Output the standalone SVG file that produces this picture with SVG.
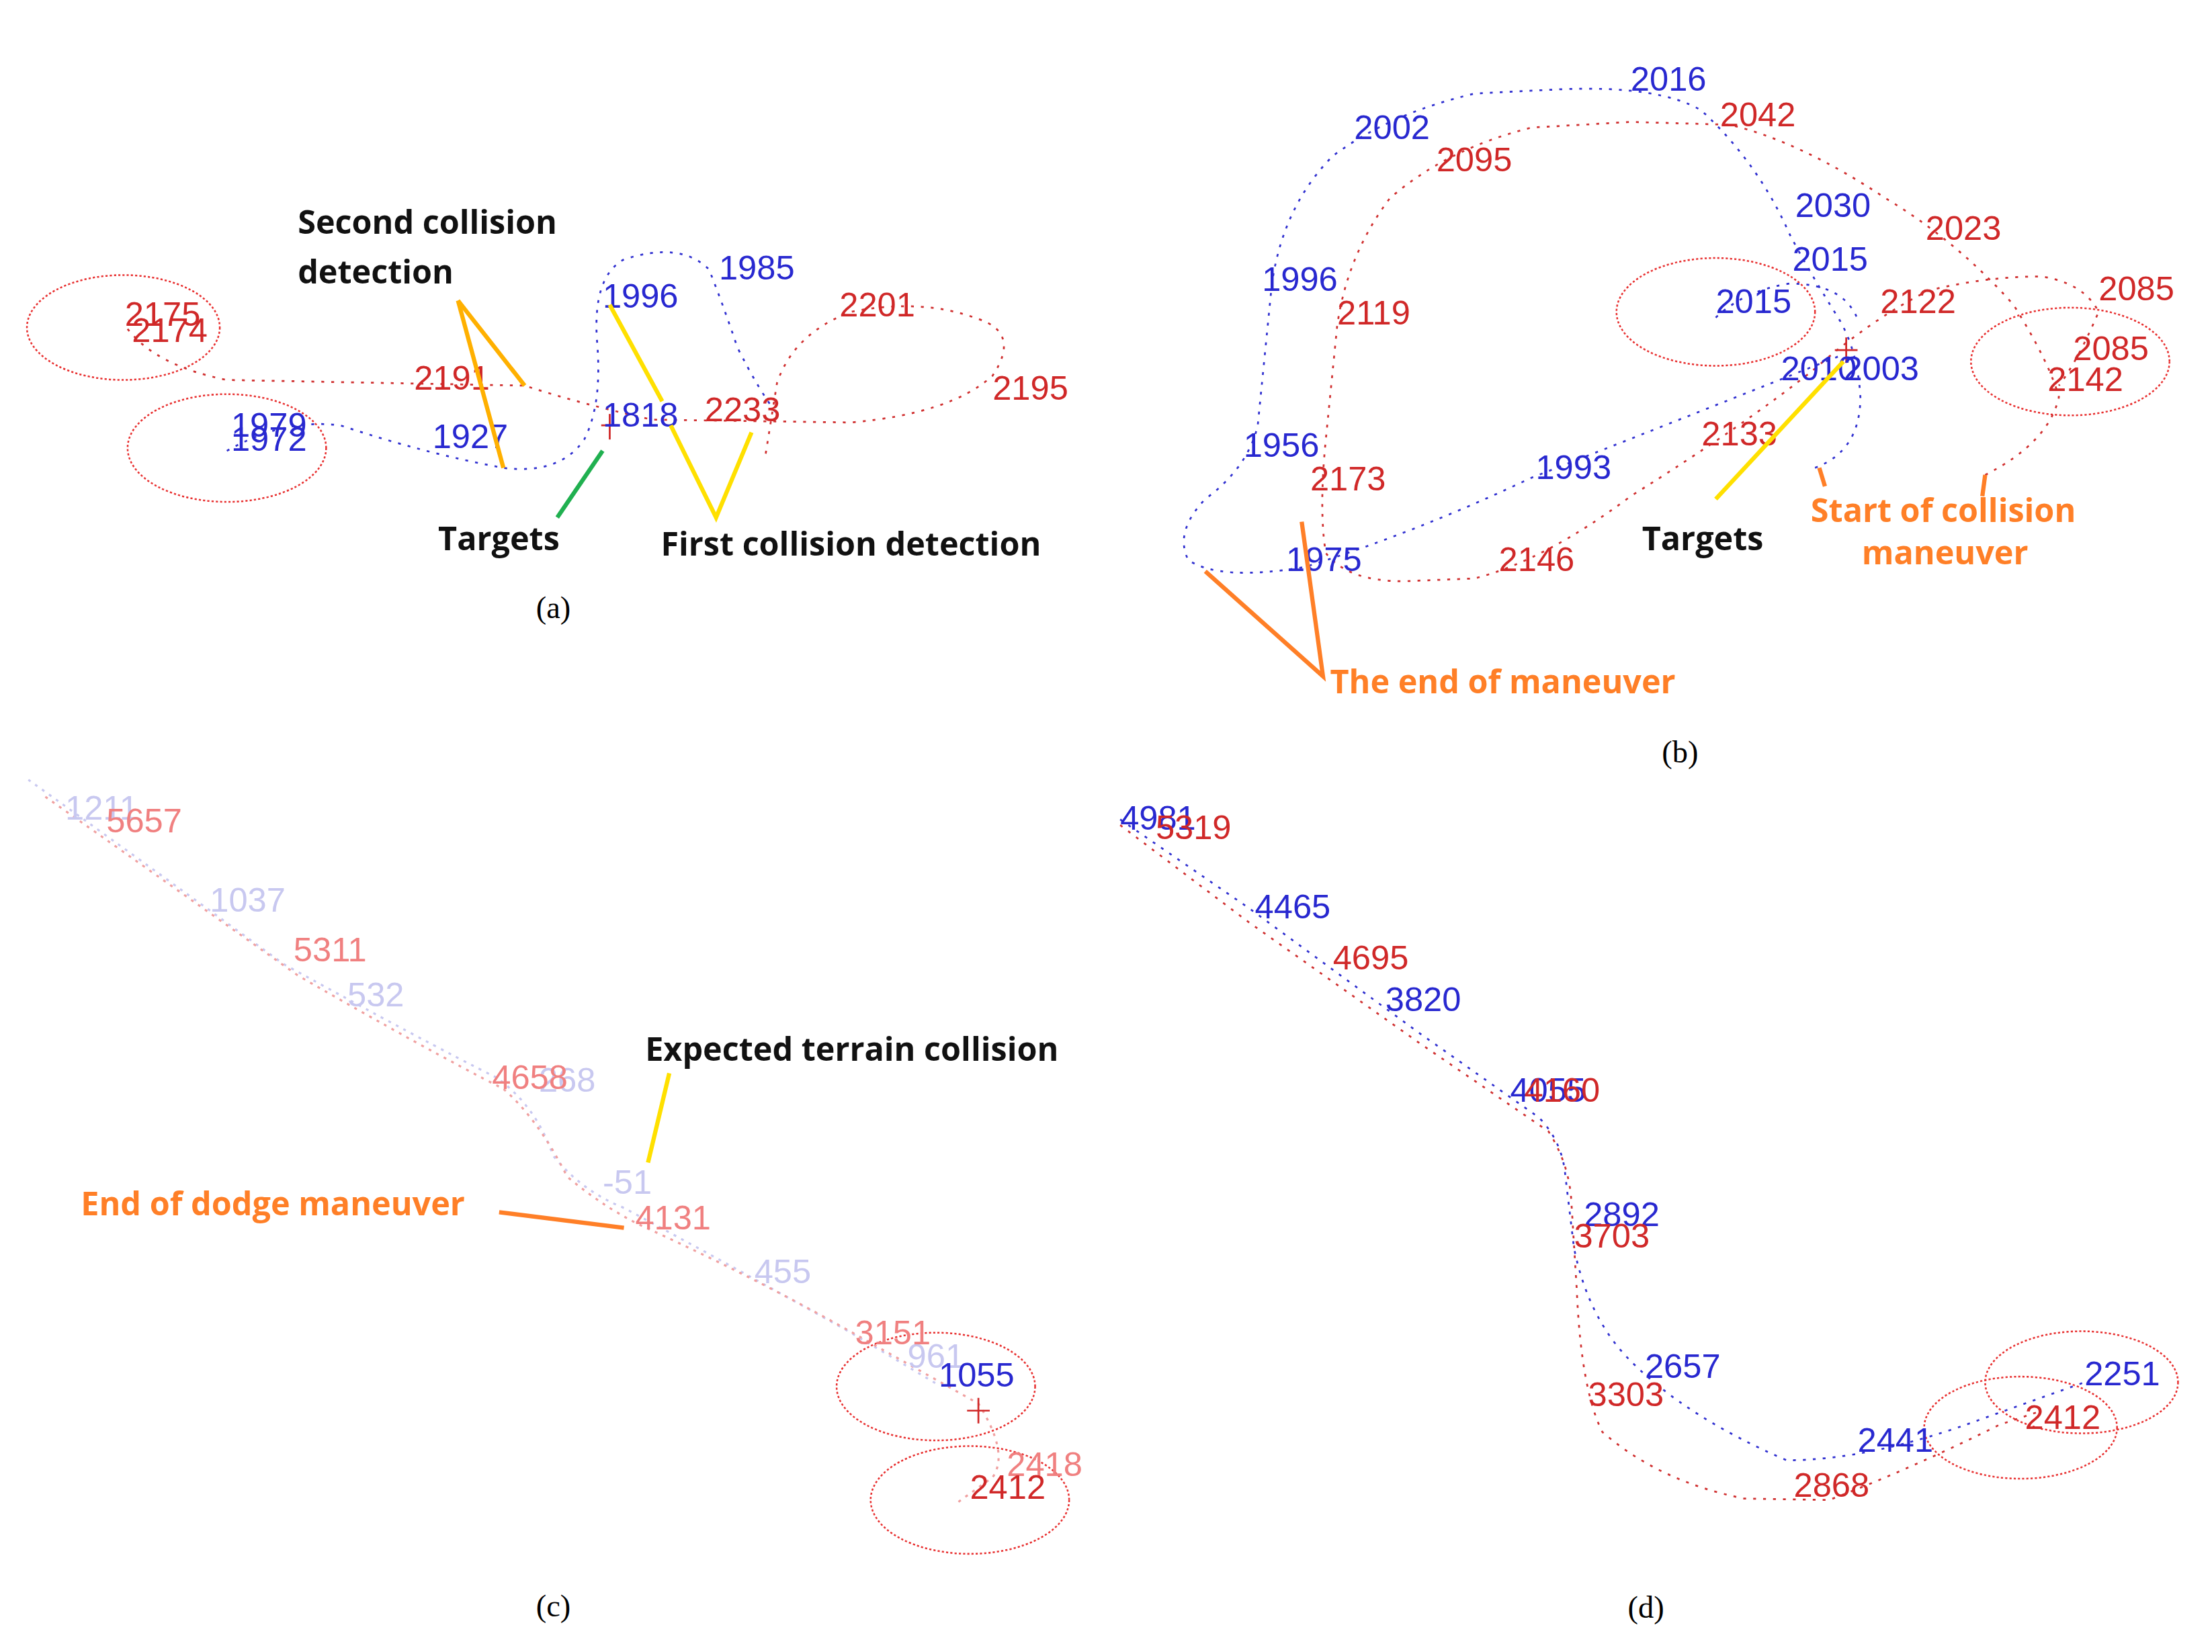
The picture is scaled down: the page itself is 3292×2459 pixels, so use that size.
<svg xmlns="http://www.w3.org/2000/svg" width="3292" height="2459" viewBox="0 0 3292 2459">
<style>
.bt{fill:none;stroke:#3030d0;stroke-width:1.3;stroke-dasharray:2 5}
.rt{fill:none;stroke:#d03030;stroke-width:1.3;stroke-dasharray:2 5}
.pbt{fill:none;stroke:#c8c8f0;stroke-width:1.5;stroke-dasharray:2 4}
.prt{fill:none;stroke:#f0a0a0;stroke-width:1.5;stroke-dasharray:2 4}
.el{fill:none;stroke:#e83030;stroke-width:1.2;stroke-dasharray:1.5 1.5}
text{font-family:"Liberation Sans",Arial,sans-serif}
.lb{font-size:24px;fill:#2828d0}
.lr{font-size:24px;fill:#d02828}
.lpb{font-size:24px;fill:#c8c8f0}
.lpr{font-size:24px;fill:#f08080}
.an{font-family:"Open Sans","Liberation Sans",sans-serif;font-weight:bold;font-size:23px;fill:#111}
.ao{font-family:"Open Sans","Liberation Sans",sans-serif;font-weight:bold;font-size:23px;fill:#ff7f27}
.cap{font-family:"Liberation Serif",serif;font-size:22px;fill:#000}
.y{stroke:#ffe000;stroke-width:3;fill:none}
.o{stroke:#ff7f27;stroke-width:3;fill:none}
.og{stroke:#ffb000;stroke-width:3;fill:none}
.g{stroke:#20b050;stroke-width:3;fill:none}
.x{stroke:#d02828;stroke-width:1.3}
</style>
<rect width="3292" height="2459" fill="#fff"/>
<g transform="scale(2.1103)">
<!-- panel a -->
<g id="panel-a">
<ellipse class="el" cx="87" cy="231" rx="68" ry="37"/>
<ellipse class="el" cx="160" cy="316" rx="70" ry="38"/>
<path class="rt" d="M90,232 Q110,258 160,268 L370,272 Q410,285 460,296 L600,298 Q670,292 700,265 Q720,235 690,225 Q650,210 600,220 Q560,235 548,270 L540,320"/>
<path class="bt" d="M160,318 Q200,295 240,300 Q300,320 355,330 Q395,335 412,310 Q425,285 421,240 Q418,195 440,183 Q480,170 500,190 Q510,215 520,245 Q535,275 548,292"/>
<line class="x" x1="424" y1="300" x2="436" y2="300"/><line class="x" x1="430" y1="292" x2="430" y2="310"/>
<text class="lr" x="88" y="230">2175</text><text class="lr" x="93" y="241">2174</text>
<text class="lr" x="292" y="275">2191</text><text class="lr" x="592" y="223">2201</text>
<text class="lr" x="700" y="282">2195</text><text class="lr" x="497" y="297">2233</text>
<text class="lb" x="163" y="308">1979</text><text class="lb" x="163" y="318">1972</text>
<text class="lb" x="305" y="316">1927</text><text class="lb" x="425" y="301">1818</text>
<text class="lb" x="425" y="217">1996</text><text class="lb" x="507" y="197">1985</text>
<line class="og" x1="323" y1="212" x2="370" y2="272"/><line class="og" x1="323" y1="212" x2="355" y2="330"/>
<line class="y" x1="430" y1="215" x2="467" y2="283"/>
<polyline class="y" points="473,300 505,365 530,305"/>
<line class="g" x1="393" y1="365" x2="425" y2="318"/>
<text class="an" x="210" y="165">Second collision</text>
<text class="an" x="210" y="200">detection</text>
<text class="an" x="309" y="388">Targets</text>
<text class="an" x="466" y="392">First collision detection</text>
<text class="cap" x="378" y="436">(a)</text>
</g>
<!-- panel b -->
<g id="panel-b">
<ellipse class="el" cx="1210" cy="220" rx="70" ry="38"/>
<ellipse class="el" cx="1460" cy="255" rx="70" ry="38"/>
<path class="bt" d="M1280,330 Q1312,318 1312,280 Q1310,245 1295,222 Q1275,190 1262,165 Q1240,115 1200,78 Q1170,60 1100,63 L1040,66 Q980,80 940,110 Q905,145 897,200 L887,300 Q880,330 850,352 Q828,375 838,395 Q860,410 920,400 Q1000,375 1080,337 Q1200,290 1300,250"/>
<path class="bt" d="M1210,224 Q1230,205 1262,200 Q1300,200 1310,225"/>
<path class="rt" d="M1400,335 Q1445,312 1452,280 Q1445,255 1420,215 Q1380,170 1330,140 Q1270,100 1220,88 L1150,86 L1080,90 Q1020,105 980,140 Q950,180 943,230 L935,310 Q930,360 935,390 Q950,410 990,410 L1040,408 Q1090,395 1150,350 Q1230,300 1280,260 Q1320,225 1360,205 Q1400,195 1440,195 Q1470,200 1480,220 Q1465,255 1452,272"/>
<line class="x" x1="1294" y1="247" x2="1310" y2="247"/><line class="x" x1="1302" y1="238" x2="1302" y2="256"/>
<text class="lb" x="1150" y="64">2016</text><text class="lb" x="955" y="98">2002</text>
<text class="lb" x="1266" y="153">2030</text><text class="lb" x="1264" y="191">2015</text>
<text class="lb" x="1210" y="221">2015</text><text class="lb" x="890" y="205">1996</text>
<text class="lb" x="1256" y="268">2010</text><text class="lb" x="1300" y="268">2003</text>
<text class="lb" x="877" y="322">1956</text><text class="lb" x="1083" y="338">1993</text>
<text class="lb" x="907" y="403">1975</text>
<text class="lr" x="1213" y="89">2042</text><text class="lr" x="1013" y="121">2095</text>
<text class="lr" x="1358" y="169">2023</text><text class="lr" x="943" y="229">2119</text>
<text class="lr" x="1326" y="221">2122</text><text class="lr" x="1480" y="212">2085</text>
<text class="lr" x="1462" y="254">2085</text><text class="lr" x="1444" y="276">2142</text>
<text class="lr" x="1200" y="314">2133</text><text class="lr" x="924" y="346">2173</text>
<text class="lr" x="1057" y="403">2146</text>
<line class="y" x1="1300" y1="255" x2="1210" y2="352"/>
<line class="o" x1="1283" y1="330" x2="1287" y2="343"/>
<line class="o" x1="1400" y1="335" x2="1398" y2="350"/>
<polyline class="o" points="850,403 933,477 918,368"/>
<text class="an" x="1158" y="388">Targets</text>
<text class="ao" x="1277" y="368">Start of collision</text>
<text class="ao" x="1313" y="398">maneuver</text>
<text class="ao" x="938" y="489">The end of maneuver</text>
<text class="cap" x="1172" y="538">(b)</text>
</g>
<!-- panel c -->
<g id="panel-c">
<path class="pbt" d="M20,550 Q90,600 200,680 Q300,735 350,760 Q378,780 390,815 Q410,840 440,852 Q520,895 600,940 L662,977"/>
<path class="prt" d="M32,562 Q100,610 210,688 Q300,740 355,768 Q380,790 400,830 Q430,855 460,868 Q540,905 610,945 L690,990 Q712,1025 700,1042 L675,1060"/>
<ellipse class="el" cx="660" cy="978" rx="70" ry="38"/>
<ellipse class="el" cx="684" cy="1058" rx="70" ry="38"/>
<line class="x" x1="682" y1="995" x2="698" y2="995"/><line class="x" x1="690" y1="986" x2="690" y2="1004"/>
<text class="lpb" x="46" y="578">1211</text><text class="lpb" x="148" y="643">1037</text>
<text class="lpb" x="245" y="710">532</text><text class="lpb" x="380" y="770">268</text>
<text class="lpb" x="425" y="842">-51</text><text class="lpb" x="532" y="905">455</text>
<text class="lpb" x="640" y="965">961</text>
<text class="lpr" x="75" y="587">5657</text><text class="lpr" x="207" y="678">5311</text>
<text class="lpr" x="347" y="768">4658</text><text class="lpr" x="448" y="867">4131</text>
<text class="lpr" x="603" y="948">3151</text><text class="lpr" x="710" y="1041">2418</text>
<text class="lb" x="662" y="978">1055</text><text class="lr" x="684" y="1057">2412</text>
<line class="y" x1="472" y1="757" x2="457" y2="820"/>
<line class="o" x1="352" y1="855" x2="440" y2="866"/>
<text class="an" x="455" y="748">Expected terrain collision</text>
<text class="ao" x="57" y="857">End of dodge maneuver</text>
<text class="cap" x="378" y="1140">(c)</text>
</g>
<!-- panel d -->
<g id="panel-d">
<path class="bt" d="M790,578 L880,640 L1000,728 L1085,788 Q1102,805 1104,830 L1110,880 Q1120,930 1150,960 Q1190,1000 1260,1030 Q1320,1030 1400,1000 L1470,975"/>
<path class="rt" d="M790,582 L880,650 L1000,735 L1092,798 Q1106,820 1108,845 L1112,910 Q1115,980 1130,1010 Q1170,1045 1230,1057 L1290,1058 Q1350,1035 1410,1005 L1440,995"/>
<ellipse class="el" cx="1468" cy="975" rx="68" ry="36"/>
<ellipse class="el" cx="1425" cy="1007" rx="68" ry="36"/>
<text class="lb" x="790" y="585">4981</text><text class="lb" x="885" y="648">4465</text>
<text class="lb" x="977" y="713">3820</text><text class="lb" x="1065" y="777">4055</text>
<text class="lb" x="1117" y="865">2892</text><text class="lb" x="1160" y="972">2657</text>
<text class="lb" x="1310" y="1024">2441</text><text class="lb" x="1470" y="977">2251</text>
<text class="lr" x="815" y="592">5319</text><text class="lr" x="940" y="684">4695</text>
<text class="lr" x="1075" y="777">4160</text><text class="lr" x="1110" y="880">3703</text>
<text class="lr" x="1120" y="992">3303</text><text class="lr" x="1265" y="1056">2868</text>
<text class="lr" x="1428" y="1008">2412</text>
<text class="cap" x="1148" y="1141">(d)</text>
</g>
</g>
</svg>
